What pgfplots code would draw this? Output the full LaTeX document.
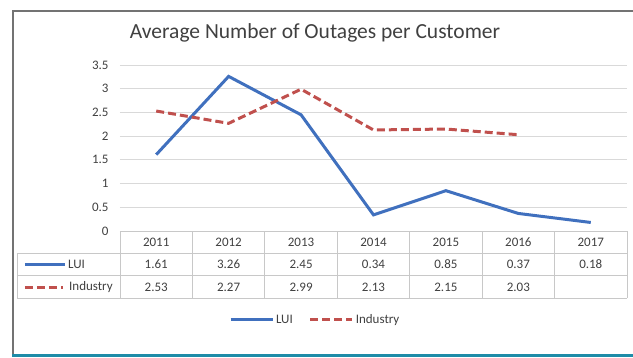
\documentclass[border=0pt]{standalone}
\usepackage{pgfplots}
\pgfplotsset{compat=1.18}
\usepackage{fontspec}
\setmainfont{Carlito}
\definecolor{luiblue}{HTML}{4070BE}
\definecolor{indred}{HTML}{C0504D}
\definecolor{gridg}{HTML}{D9D9D9}
\definecolor{tabg}{HTML}{C8C8C8}
\definecolor{txtg}{HTML}{404040}
\definecolor{teal}{HTML}{1E8CA8}
\tikzset{tl/.style={font=\fontsize{13}{15}\selectfont, text=txtg}}
\begin{document}
\begin{tikzpicture}[x=1pt,y=1pt]
\path[use as bounding box] (0,0) rectangle (633,357);
% frame
\draw[line width=2pt,color=black!55] (12.5,2) -- (12.5,346) -- (634,346);
\fill[teal] (11.5,0) rectangle (633,3);
\node[font=\fontsize{21.5}{24}\selectfont,text=txtg] at (315,324) {Average Number of Outages per Customer};
\begin{axis}[
  at={(120pt,126pt)}, anchor=south west,
  scale only axis, width=507pt, height=166pt,
  xmin=-0.5, xmax=6.5, ymin=0, ymax=3.5,
  ytick={0,0.5,1,1.5,2,2.5,3,3.5},
  yticklabels={0,0.5,1,1.5,2,2.5,3,3.5},
  xtick=\empty,
  axis line style={draw=none},
  ymajorgrids, grid style={gridg, line width=1pt},
  major tick length=0pt,
  tick label style={font=\fontsize{13}{15}\selectfont, text=txtg},
  yticklabel style={xshift=-8pt},
  clip=false,
  legend style={at={(0.385,-0.536)}, anchor=center, draw=none, fill=none,
    legend columns=2, font=\fontsize{13}{15}\selectfont, text=txtg,
    nodes={inner xsep=2pt},
    /tikz/every even column/.append style={column sep=14pt}},
  legend image code/.code={\draw[#1] (0pt,0pt) -- (42pt,0pt);},
]
\addplot[luiblue, line width=3pt] coordinates {(0,1.61) (1,3.26) (2,2.45) (3,0.34) (4,0.85) (5,0.37) (6,0.18)};
\addlegendentry{LUI}
\addplot[indred, line width=3pt, dash pattern=on 8pt off 4pt] coordinates {(0,2.53) (1,2.27) (2,2.99) (3,2.13) (4,2.15) (5,2.03)};
\addlegendentry{Industry}
% table grid
\draw[tabg, line width=0.8pt] (axis cs:-0.5,0) -- (axis cs:6.5,0);
\draw[tabg, line width=0.8pt] ([xshift=-103pt,yshift=-22pt]axis cs:-0.5,0) -- ([yshift=-22pt]axis cs:6.5,0);
\draw[tabg, line width=0.8pt] ([xshift=-103pt,yshift=-44.5pt]axis cs:-0.5,0) -- ([yshift=-44.5pt]axis cs:6.5,0);
\draw[tabg, line width=0.8pt] ([xshift=-103pt,yshift=-67pt]axis cs:-0.5,0) -- ([yshift=-67pt]axis cs:6.5,0);
\pgfplotsinvokeforeach{-0.5,0.5,1.5,2.5,3.5,4.5,5.5,6.5}{
  \draw[tabg, line width=0.8pt] (axis cs:#1,0) -- ([yshift=-67pt]axis cs:#1,0);
}
\draw[tabg, line width=0.8pt] ([xshift=-103pt,yshift=-22pt]axis cs:-0.5,0) -- ([xshift=-103pt,yshift=-67pt]axis cs:-0.5,0);
% header
\node[tl] at ([yshift=-11pt]axis cs:0,0) {2011};
\node[tl] at ([yshift=-11pt]axis cs:1,0) {2012};
\node[tl] at ([yshift=-11pt]axis cs:2,0) {2013};
\node[tl] at ([yshift=-11pt]axis cs:3,0) {2014};
\node[tl] at ([yshift=-11pt]axis cs:4,0) {2015};
\node[tl] at ([yshift=-11pt]axis cs:5,0) {2016};
\node[tl] at ([yshift=-11pt]axis cs:6,0) {2017};
\node[tl] at ([yshift=-33pt]axis cs:0,0) {1.61};
\node[tl] at ([yshift=-33pt]axis cs:1,0) {3.26};
\node[tl] at ([yshift=-33pt]axis cs:2,0) {2.45};
\node[tl] at ([yshift=-33pt]axis cs:3,0) {0.34};
\node[tl] at ([yshift=-33pt]axis cs:4,0) {0.85};
\node[tl] at ([yshift=-33pt]axis cs:5,0) {0.37};
\node[tl] at ([yshift=-33pt]axis cs:6,0) {0.18};
\node[tl] at ([yshift=-56pt]axis cs:0,0) {2.53};
\node[tl] at ([yshift=-56pt]axis cs:1,0) {2.27};
\node[tl] at ([yshift=-56pt]axis cs:2,0) {2.99};
\node[tl] at ([yshift=-56pt]axis cs:3,0) {2.13};
\node[tl] at ([yshift=-56pt]axis cs:4,0) {2.15};
\node[tl] at ([yshift=-56pt]axis cs:5,0) {2.03};
% row keys
\draw[luiblue, line width=3pt] ([xshift=-95pt,yshift=-33pt]axis cs:-0.5,0) -- ([xshift=-55pt,yshift=-33pt]axis cs:-0.5,0);
\node[tl, anchor=west, inner sep=1pt] at ([xshift=-53pt,yshift=-33pt]axis cs:-0.5,0) {LUI};
\draw[indred, line width=3pt, dash pattern=on 8pt off 4pt] ([xshift=-95pt,yshift=-56pt]axis cs:-0.5,0) -- ([xshift=-57pt,yshift=-56pt]axis cs:-0.5,0);
\node[tl, anchor=west, inner sep=1pt] at ([xshift=-52pt,yshift=-56pt]axis cs:-0.5,0) {Industry};
\end{axis}
\end{tikzpicture}
\end{document}
